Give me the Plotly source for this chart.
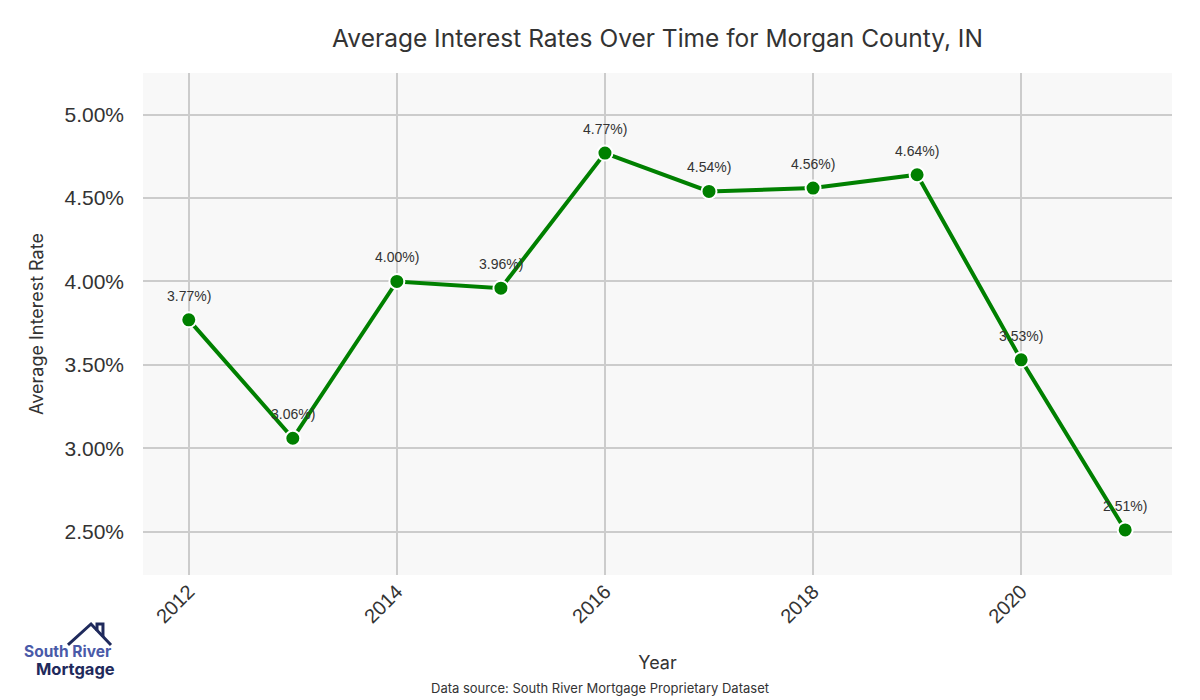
import plotly.graph_objects as go

years = [2012, 2013, 2014, 2015, 2016, 2017, 2018, 2019, 2020, 2021]
rates = [3.77, 3.06, 4.00, 3.96, 4.77, 4.54, 4.56, 4.64, 3.53, 2.51]
y_ticks = [2.5, 3.0, 3.5, 4.0, 4.5, 5.0]
y_tick_labels = ["2.50%", "3.00%", "3.50%", "4.00%", "4.50%", "5.00%"]
x_ticks = [2012, 2014, 2016, 2018, 2020]

fig = go.Figure()
fig.add_trace(go.Scatter(
    x=years, y=rates, mode="lines+markers",
    line=dict(color="#008000", width=4),
    marker=dict(color="#008000", size=15, line=dict(color="white", width=2)),
    showlegend=False, hoverinfo="skip",
))

for x, y in zip(years, rates):
    fig.add_annotation(x=x, y=y, text=f"{y:.2f}%)", showarrow=False,
                       yshift=24, font=dict(family="Liberation Sans, Arial", size=14, color="#333333"))

fig.update_layout(
    width=1200, height=700,
    margin=dict(l=135, r=36, t=65, b=133),
    paper_bgcolor="white", plot_bgcolor="#f8f8f8",
    title=dict(text="Average Interest Rates Over Time for Morgan County, IN",
               x=0.5, xref="paper", xanchor="center", y=0.957, yanchor="middle",
               font=dict(family="Inter", size=24.5, color="#333333")),
    font=dict(family="Inter", color="#333333"),
)
fig.update_xaxes(range=[2011.56, 2021.45], tickvals=x_ticks, tickangle=-45,
                 showgrid=True, gridcolor="#cccccc", gridwidth=2, zeroline=False,
                 tickfont=dict(family="Liberation Sans, Arial", size=20, color="#333333"),
                 title=dict(text="Year", font=dict(family="Inter", size=18, color="#333333"), standoff=30),
                 ticks="", showline=False)
fig.update_yaxes(range=[2.24, 5.25], tickvals=y_ticks, ticktext=y_tick_labels,
                 showgrid=True, gridcolor="#cccccc", gridwidth=2, zeroline=False,
                 ticklabelstandoff=18,
                 tickfont=dict(family="Liberation Sans, Arial", size=21, color="#333333"),
                 title=dict(text="Average Interest Rate", font=dict(family="Inter", size=18, color="#333333"), standoff=16),
                 ticks="", showline=False)

fig.add_annotation(text="Data source: South River Mortgage Proprietary Dataset",
                   xref="paper", yref="paper", x=0.444, y=-0.225, xanchor="center", yanchor="middle",
                   showarrow=False, font=dict(family="Inter", size=13, color="#333333"))

# Logo
fig.add_annotation(text="<b>South River</b>", xref="paper", yref="paper",
                   x=-0.1175, y=-0.153, xanchor="left", yanchor="middle", showarrow=False,
                   font=dict(family="Inter", size=15.5, color="#4a5aa8"))
fig.add_annotation(text="<b>Mortgage</b>", xref="paper", yref="paper",
                   x=-0.106, y=-0.188, xanchor="left", yanchor="middle", showarrow=False,
                   font=dict(family="Inter", size=16.5, color="#1f2a5c"))
fig.add_shape(type="path", xref="paper", yref="paper",
              path="M -0.0729 -0.1394 L -0.0505 -0.0976 L -0.0311 -0.1394",
              line=dict(color="#1f2a5c", width=3))
fig.add_shape(type="path", xref="paper", yref="paper",
              path="M -0.0447 -0.1115 L -0.0447 -0.0976 L -0.0389 -0.0976 L -0.0389 -0.1235",
              line=dict(color="#1f2a5c", width=3))

fig.write_html("out.html")
